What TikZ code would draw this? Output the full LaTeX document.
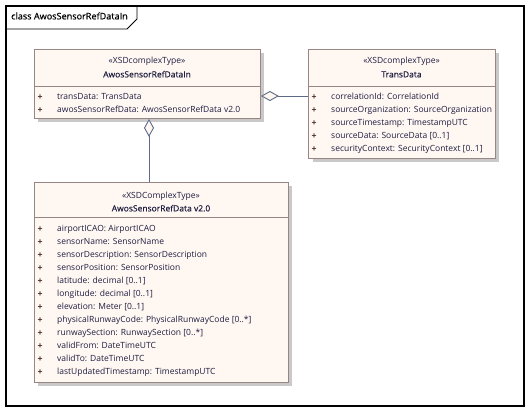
\documentclass[tikz,border=0pt]{standalone}
\usepackage{fontspec}
\newfontfamily\umlfont{Open Sans}
\newfontfamily\umlsemi[FakeBold=0.5]{Open Sans}
\usetikzlibrary{arrows.meta}
\definecolor{boxfill}{HTML}{FFF7F2}
\definecolor{boxline}{HTML}{9A8585}
\definecolor{shadowc}{HTML}{C9C9C9}
\definecolor{txtc}{HTML}{1E1E40}
\definecolor{plusc}{HTML}{3A1E1E}
\definecolor{connc}{HTML}{5F6A87}
\tikzset{
  umlbox/.style={draw=boxline, fill=boxfill, line width=0.9pt, rectangle, inner sep=0pt, anchor=north west},
  txt/.style={font=\umlfont\fontsize{8.5}{10}\selectfont, text=txtc, inner sep=0pt, text height=6.5pt, text depth=1.7pt},
  attr/.style={txt, anchor=west},
  plus/.style={txt, text=plusc, anchor=center, font=\umlsemi\fontsize{8.5}{10}\selectfont},
  hdr/.style={txt, anchor=center},
  hdrb/.style={txt, anchor=center, font=\umlsemi\fontsize{8.5}{10}\selectfont},
  conn/.style={draw=connc, line width=0.9pt},
  aggr/.style={conn, -{Diamond[open, fill=boxfill, length=18pt, width=10pt, line width=0.9pt]}},
}
\begin{document}
\begin{tikzpicture}[x=1pt, y=-1pt]
\useasboundingbox (0,0) rectangle (530,413);
% frame
\draw[line width=1.1pt] (6,6) rectangle (524,406);
\draw[line width=0.8pt] (6,29) -- (127,29) -- (137,19) -- (137,6);
\node[txt, anchor=west, text=black, font=\umlsemi\fontsize{9.1}{11}\selectfont] (title) at (11,17) {class AwosSensorRefDataIn};

% shadows
\fill[shadowc] (38,53) rectangle (264,122);
\fill[shadowc] (313,53) rectangle (499,162);
\fill[shadowc] (38,186) rectangle (292,386);

% box 1
\node[umlbox, minimum width=226pt, minimum height=69pt] (b1) at (34,49) {};
\draw[boxline, line width=0.9pt] (34,86) -- (260,86);
\node[hdr] (b1s) at (147,61) {«XSDcomplexType»};
\node[hdrb] (b1n) at (147,75) {AwosSensorRefDataIn};
\foreach \y/\t in {97/{transData: TransData}, 110/{awosSensorRefData: AwosSensorRefData v2.0}} {
  \node[plus] at (40,\y) {+};
  \node[attr] at (57,\y) {\t};
}

% TransData
\node[umlbox, minimum width=187pt, minimum height=109pt] (td) at (308,49) {};
\draw[boxline, line width=0.9pt] (308,86) -- (495,86);
\node[hdr] (tds) at (401.5,61) {«XSDcomplexType»};
\node[hdrb] (tdn) at (401.5,75) {TransData};
\foreach \y/\t in {97/{correlationId: CorrelationId}, 110/{sourceOrganization: SourceOrganization}, 123/{sourceTimestamp: TimestampUTC}, 136/{sourceData: SourceData [0..1]}, 149/{securityContext: SecurityContext [0..1]}} {
  \node[plus] at (314,\y) {+};
  \node[attr] at (331,\y) {\t};
}

% AwosSensorRefData v2.0
\node[umlbox, minimum width=254pt, minimum height=200pt] (b3) at (34,182) {};
\draw[boxline, line width=0.9pt] (34,217) -- (288,217);
\node[hdr] (b3s) at (161,196) {«XSDComplexType»};
\node[hdrb] (b3n) at (161,209) {AwosSensorRefData v2.0};
\foreach \y/\t in {229/{airportICAO: AirportICAO}, 242/{sensorName: SensorName}, 255/{sensorDescription: SensorDescription}, 268/{sensorPosition: SensorPosition}, 281/{latitude: decimal [0..1]}, 294/{longitude: decimal [0..1]}, 307/{elevation: Meter [0..1]}, 320/{physicalRunwayCode: PhysicalRunwayCode [0..*]}, 333/{runwaySection: RunwaySection [0..*]}, 346/{validFrom: DateTimeUTC}, 359/{validTo: DateTimeUTC}, 372/{lastUpdatedTimestamp: TimestampUTC}} {
  \node[plus] at (40,\y) {+};
  \node[attr] at (57,\y) {\t};
}

% connectors
\coordinate (c1) at (0,96);
\coordinate (c2) at (149,0);
\draw[aggr] (td.west |- c1) -- (b1.east |- c1);
\draw[aggr] (b3.north -| c2) -- (b1.south -| c2);
\end{tikzpicture}
\end{document}
